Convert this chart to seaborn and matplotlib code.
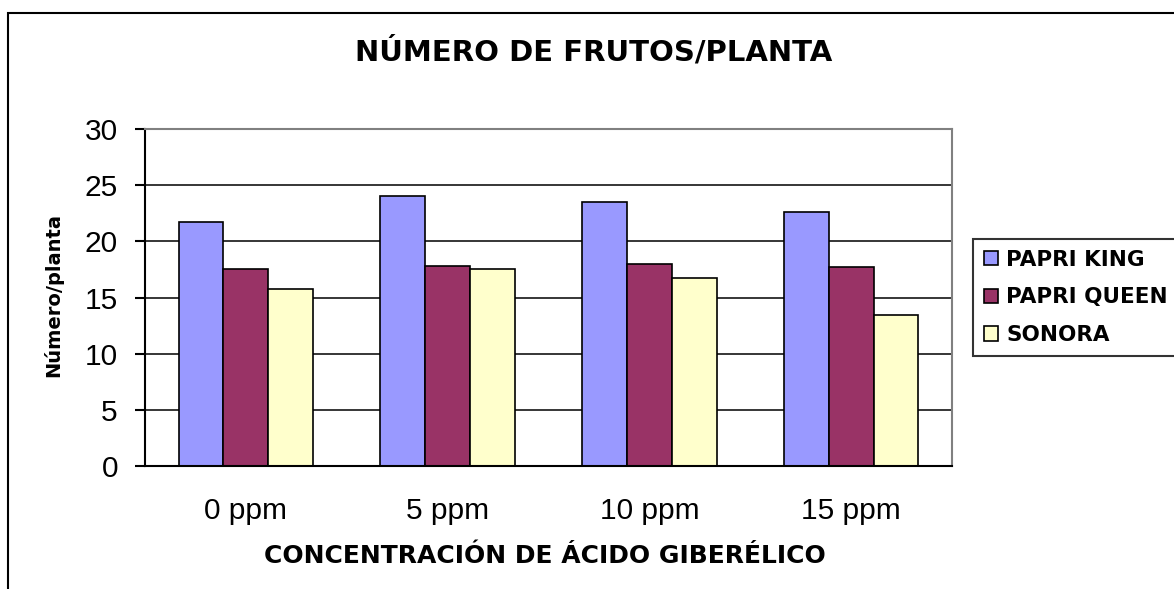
import pandas as pd
import seaborn as sns
import matplotlib.pyplot as plt
from matplotlib.patches import Rectangle

categories = ["0 ppm", "5 ppm", "10 ppm", "15 ppm"]
papri_king = [21.7, 24.0, 23.5, 22.6]
papri_queen = [17.5, 17.8, 18.0, 17.7]
sonora = [15.8, 17.5, 16.7, 13.4]
series_names = ["PAPRI KING", "PAPRI QUEEN", "SONORA"]
colors = ["#9999FF", "#993366", "#FFFFCC"]
yticks = [0, 5, 10, 15, 20, 25, 30]

rows = []
for name, vals in zip(series_names, [papri_king, papri_queen, sonora]):
    for c, v in zip(categories, vals):
        rows.append({"conc": c, "serie": name, "valor": v})
data = pd.DataFrame(rows)

sns.set_style("white")
plt.rcParams["font.family"] = ["Liberation Sans", "DejaVu Sans"]
plt.rcParams["text.color"] = "black"
plt.rcParams["xtick.color"] = "black"
plt.rcParams["ytick.color"] = "black"
heavy = dict(family=["DejaVu Sans"], fontweight="bold", color="black")

W, H = 1174, 589
fig = plt.figure(figsize=(W / 100, H / 100), dpi=100)
ax = fig.add_axes([145 / W, 1 - 466 / H, (952 - 145) / W, (466 - 129) / H])

sns.barplot(data=data, x="conc", y="valor", hue="serie", order=categories,
            hue_order=series_names, palette=colors, width=0.667,
            edgecolor="black", linewidth=1.2, saturation=1, ax=ax)

ax.set_xlim(-0.5, 3.5)
ax.set_ylim(0, 30)
ax.set_yticks(yticks)
ax.yaxis.grid(True, color="black", linewidth=1.1)
ax.set_axisbelow(True)
ax.set_xticks([-0.5, 0.5, 1.5, 2.5, 3.5], minor=True)
ax.tick_params(axis="x", which="major", length=0, pad=22, labelsize=21.5,
               labelcolor="black")
ax.tick_params(axis="x", which="minor", length=6, width=1.5, color="black")
ax.tick_params(axis="y", length=7.5, width=1.5, color="black", labelsize=21.5,
               pad=12, left=True, labelcolor="black")
for s in ["left", "bottom"]:
    ax.spines[s].set_color("black")
    ax.spines[s].set_linewidth(1.5)
for s in ["top", "right"]:
    ax.spines[s].set_color("#808080")
    ax.spines[s].set_linewidth(1.5)

ax.set_xlabel("")
ax.set_ylabel("")
fig.text(594 / W, 1 - 52 / H, "NÚMERO DE FRUTOS/PLANTA", ha="center",
         va="center", fontsize=21, **heavy)
fig.text(545 / W, 1 - 556 / H, "CONCENTRACIÓN DE ÁCIDO GIBERÉLICO",
         ha="center", va="center", fontsize=18, **heavy)
fig.text(53 / W, 1 - 295 / H, "Número/planta", ha="center", va="center",
         rotation=90, fontsize=14, **heavy)

handles, labels = ax.get_legend_handles_labels()
ax.legend_.remove()
leg = fig.legend(handles, labels, loc="upper left", mode="expand",
                 bbox_to_anchor=(973 / W, 1 - 239 / H - 0.01, 240 / W, 0.01),
                 bbox_transform=fig.transFigure, frameon=True, fancybox=False,
                 borderaxespad=0, handlelength=0.65, handleheight=0.65,
                 handletextpad=0.4, labelspacing=0.82, borderpad=0.5,
                 labelcolor="black",
                 prop=dict(family=["DejaVu Sans"], weight="bold", size=15.5))
leg.get_frame().set_edgecolor("black")
leg.get_frame().set_linewidth(1.5)

fig.patches.append(Rectangle((8 / W, -0.1), 1.2, 1 - 13 / H + 0.1,
                             transform=fig.transFigure, fill=False,
                             edgecolor="black", linewidth=1.5))

fig.savefig("out.png", dpi=100)
